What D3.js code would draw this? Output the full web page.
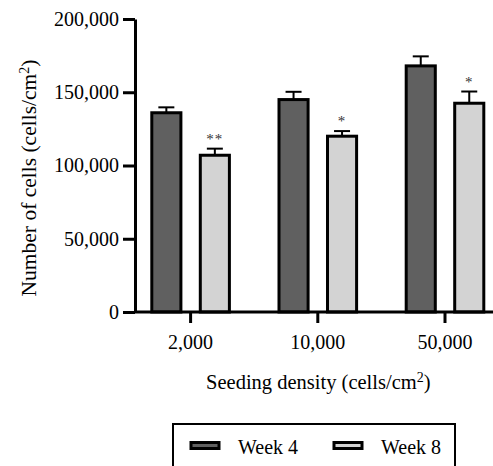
<!DOCTYPE html>
<html>
<head>
<meta charset="utf-8">
<script src="https://cdn.jsdelivr.net/npm/d3@7"></script>
<style>
  html, body { margin: 0; padding: 0; background: #fff; }
  svg { display: block; }
  text { font-family: "Liberation Serif", "Times New Roman", serif; fill: #000; }
</style>
</head>
<body>
<svg id="chart" width="493" height="466"></svg>
<script>
// Seeding densities and cell counts (cells/cm²) after 4 and 8 weeks
const categories = ["2,000", "10,000", "50,000"];
const series = ["Week 4", "Week 8"];
const week4Mean = [136000, 145000, 168000];
const week4Err  = [3700, 5300, 6500];
const week8Mean = [107000, 120000, 142500];
const week8Err  = [4500, 3500, 8000];
const significance = ["**", "*", "*"];
const yTicks = [0, 50000, 100000, 150000, 200000];

const colors = { "Week 4": "#606060", "Week 8": "#d3d3d3" };

const svg = d3.select("#chart");

const y = d3.scaleLinear().domain([0, 200000]).range([312, 19]);
const x = d3.scaleBand().domain(categories).range([127, 508.6]).padding(0);
const xSub = d3.scaleBand().domain(series).range([-38.8, 38.8]).paddingInner(0.4);

const rows = [];
categories.forEach((c, i) => {
  rows.push({ cat: c, s: "Week 4", mean: week4Mean[i], err: week4Err[i], sig: null });
  rows.push({ cat: c, s: "Week 8", mean: week8Mean[i], err: week8Err[i], sig: significance[i] });
});
const cx = d => x(d.cat) + x.bandwidth() / 2 + xSub(d.s) + xSub.bandwidth() / 2;

// error bars (upper whisker only shows above the bar)
const eb = svg.append("g");
eb.selectAll("line.v").data(rows).join("line")
  .attr("x1", cx).attr("x2", cx)
  .attr("y1", d => y(d.mean)).attr("y2", d => y(d.mean + d.err))
  .attr("stroke", "#000").attr("stroke-width", 2);
eb.selectAll("line.h").data(rows).join("line")
  .attr("x1", d => cx(d) - 8).attr("x2", d => cx(d) + 8)
  .attr("y1", d => y(d.mean + d.err)).attr("y2", d => y(d.mean + d.err))
  .attr("stroke", "#000").attr("stroke-width", 2);

// bars
svg.append("g").selectAll("rect").data(rows).join("rect")
  .attr("x", d => cx(d) - xSub.bandwidth() / 2)
  .attr("width", xSub.bandwidth())
  .attr("y", d => y(d.mean))
  .attr("height", d => y(0) - y(d.mean))
  .attr("fill", d => colors[d.s])
  .attr("stroke", "#000").attr("stroke-width", 3);

// significance marks
svg.append("g").selectAll("text").data(rows.filter(d => d.sig)).join("text")
  .attr("x", cx)
  .attr("y", d => y(d.mean + d.err) - 5)
  .attr("text-anchor", "middle")
  .attr("font-size", 15)
  .attr("letter-spacing", 1)
  .style("fill", "#333")
  .text(d => d.sig);

// y axis
const yAxis = svg.append("g").attr("transform", "translate(135,0)")
  .call(d3.axisLeft(y).tickValues(yTicks).tickSize(12).tickSizeOuter(0).tickPadding(4)
    .tickFormat(d3.format(",")));
yAxis.select(".domain").attr("stroke-width", 3).attr("stroke", "#000");
yAxis.selectAll(".tick line").attr("stroke-width", 3).attr("stroke", "#000");
yAxis.selectAll(".tick text").attr("font-size", 20).attr("font-family", "Liberation Serif").style("fill", "#000");

// x axis
const xAxis = svg.append("g").attr("transform", "translate(0,312)")
  .call(d3.axisBottom(x).tickSize(11).tickSizeOuter(0).tickPadding(12));
xAxis.select(".domain").attr("d", "M134,0H493").attr("stroke-width", 3).attr("stroke", "#000");
xAxis.selectAll(".tick line").attr("stroke-width", 3).attr("stroke", "#000");
xAxis.selectAll(".tick text").attr("font-size", 20).attr("font-family", "Liberation Serif").style("fill", "#000");

// axis titles
const yTitle = svg.append("text")
  .attr("transform", "translate(36,178) rotate(-90)")
  .attr("text-anchor", "middle").attr("font-size", 21.5);
yTitle.append("tspan").text("Number of cells (cells/cm");
yTitle.append("tspan").attr("font-size", 14).attr("baseline-shift", "super").text("2");
yTitle.append("tspan").text(")");

const xTitle = svg.append("text")
  .attr("x", 318.3).attr("y", 389)
  .attr("text-anchor", "middle").attr("font-size", 20.5);
xTitle.append("tspan").text("Seeding density (cells/cm");
xTitle.append("tspan").attr("font-size", 14).attr("baseline-shift", "super").text("2");
xTitle.append("tspan").text(")");

// legend
const legend = svg.append("g");
legend.append("rect")
  .attr("x", 173).attr("y", 424).attr("width", 282).attr("height", 60)
  .attr("fill", "none").attr("stroke", "#000").attr("stroke-width", 2);
const lx = d3.scaleOrdinal().domain(series).range([191, 334]);
const items = legend.selectAll("g.item").data(series).join("g")
  .attr("transform", d => `translate(${lx(d)},0)`);
items.append("rect")
  .attr("x", 0).attr("y", 442.5).attr("width", 28).attr("height", 6)
  .attr("fill", d => colors[d]).attr("stroke", "#000").attr("stroke-width", 3);
items.append("text")
  .attr("x", 47).attr("y", 454).attr("font-size", 20)
  .text(d => d);
</script>
</body>
</html>
